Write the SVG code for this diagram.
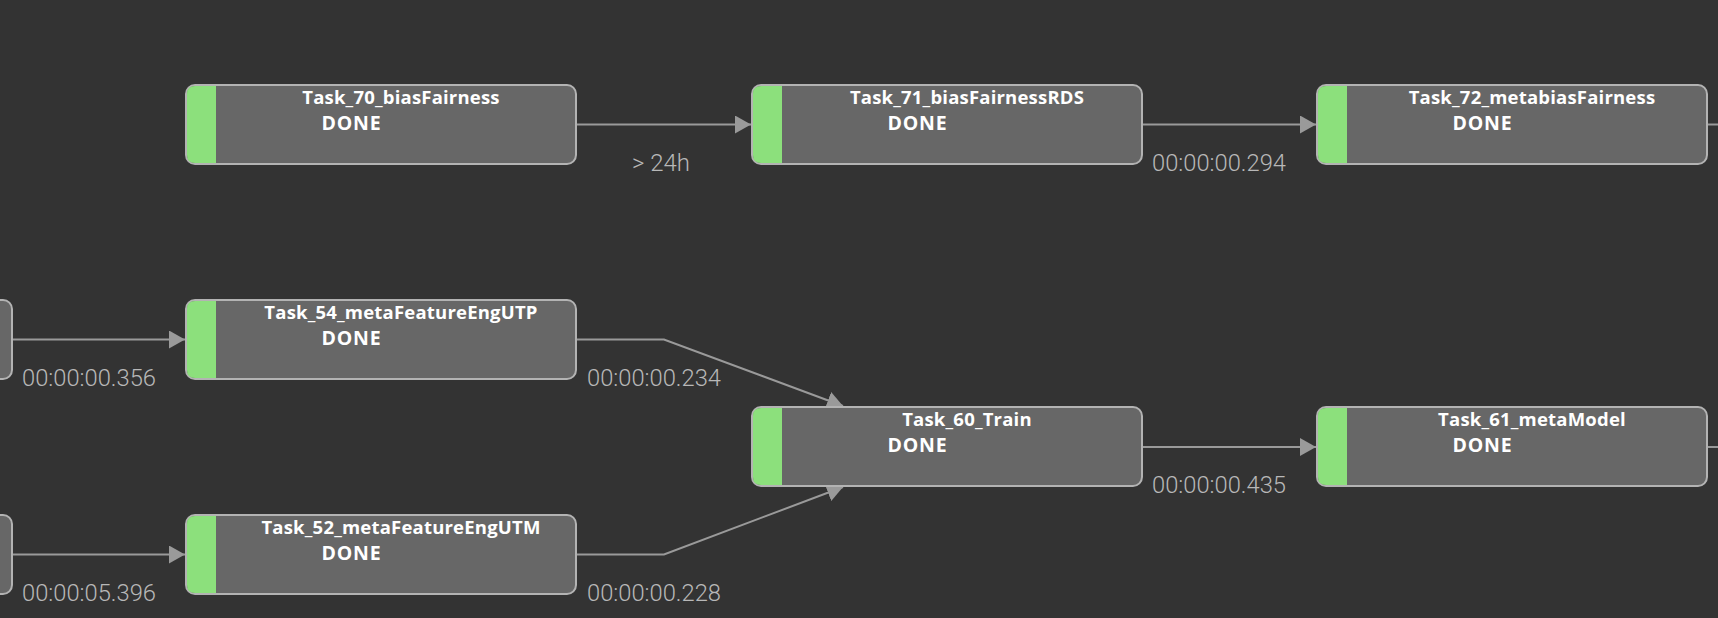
<svg xmlns="http://www.w3.org/2000/svg" width="1718" height="618" viewBox="0 0 1718 618">
<style>
.node rect.box{fill:#676767;stroke:#b3b3b3;stroke-width:2}
.node path.bar{fill:#8ce07c}
.title{font-family:"Open Sans","Liberation Sans",sans-serif;font-weight:700;font-size:18.5px;fill:#ffffff;text-anchor:middle;letter-spacing:0.2px}
.state{font-family:"Open Sans","Liberation Sans",sans-serif;font-weight:700;font-size:19.5px;fill:#ffffff;letter-spacing:0.8px}
.edge{fill:none;stroke:#9a9a9a;stroke-width:2}
.lbl{font-family:Roboto,"Liberation Sans",sans-serif;font-weight:300;font-size:24px;fill:#b8b8b8}
</style>
<defs>
<marker id="arr" markerUnits="userSpaceOnUse" markerWidth="16" markerHeight="18" refX="16" refY="9" orient="auto" viewBox="0 0 16 18">
<path d="M0,0 L16,9 L0,18 z" fill="#9a9a9a"/>
</marker>
</defs>
<rect width="1718" height="618" fill="#333333"/>
<g id="connectors">
<path class="edge" d="M577,124.5 L751,124.5" marker-end="url(#arr)"/>
<path class="edge" d="M1142,124.5 L1316,124.5" marker-end="url(#arr)"/>
<path class="edge" d="M1708,124.5 L1718,124.5"/>
<path class="edge" d="M13,339.5 L185,339.5" marker-end="url(#arr)"/>
<path class="edge" d="M13,554.5 L185,554.5" marker-end="url(#arr)"/>
<path class="edge" d="M577,339.5 L664,339.5 L843,406" marker-end="url(#arr)"/>
<path class="edge" d="M577,554.5 L664,554.5 L843,487" marker-end="url(#arr)"/>
<path class="edge" d="M1142,447 L1316,447" marker-end="url(#arr)"/>
<path class="edge" d="M1708,447 L1718,447"/>
<text class="lbl" x="632" y="171" textLength="58" lengthAdjust="spacingAndGlyphs">&gt; 24h</text>
<text class="lbl" x="1152" y="171" textLength="134" lengthAdjust="spacingAndGlyphs">00:00:00.294</text>
<text class="lbl" x="22" y="386" textLength="134" lengthAdjust="spacingAndGlyphs">00:00:00.356</text>
<text class="lbl" x="587" y="386" textLength="134" lengthAdjust="spacingAndGlyphs">00:00:00.234</text>
<text class="lbl" x="1152" y="493" textLength="134" lengthAdjust="spacingAndGlyphs">00:00:00.435</text>
<text class="lbl" x="22" y="601" textLength="134" lengthAdjust="spacingAndGlyphs">00:00:05.396</text>
<text class="lbl" x="587" y="601" textLength="134" lengthAdjust="spacingAndGlyphs">00:00:00.228</text>
</g>
<g id="node_prev1" class="node" transform="translate(-378,300)">
<rect class="box" x="0" y="0" width="390" height="79" rx="9"/>
</g>
<g id="node_prev2" class="node" transform="translate(-378,515)">
<rect class="box" x="0" y="0" width="390" height="79" rx="9"/>
</g>
<g id="node_70" class="node" transform="translate(186,85)">
<rect class="box" x="0" y="0" width="390" height="79" rx="9"/>
<path class="bar" d="M30,1 L9,1 Q1,1 1,9 L1,70 Q1,78 9,78 L30,78 z"/>
<text class="title" x="215" y="19">Task_70_biasFairness</text>
<text class="state" x="135.5" y="44.5">DONE</text>
</g>
<g id="node_71" class="node" transform="translate(752,85)">
<rect class="box" x="0" y="0" width="390" height="79" rx="9"/>
<path class="bar" d="M30,1 L9,1 Q1,1 1,9 L1,70 Q1,78 9,78 L30,78 z"/>
<text class="title" x="215" y="19">Task_71_biasFairnessRDS</text>
<text class="state" x="135.5" y="44.5">DONE</text>
</g>
<g id="node_72" class="node" transform="translate(1317,85)">
<rect class="box" x="0" y="0" width="390" height="79" rx="9"/>
<path class="bar" d="M30,1 L9,1 Q1,1 1,9 L1,70 Q1,78 9,78 L30,78 z"/>
<text class="title" x="215" y="19">Task_72_metabiasFairness</text>
<text class="state" x="135.5" y="44.5">DONE</text>
</g>
<g id="node_54" class="node" transform="translate(186,300)">
<rect class="box" x="0" y="0" width="390" height="79" rx="9"/>
<path class="bar" d="M30,1 L9,1 Q1,1 1,9 L1,70 Q1,78 9,78 L30,78 z"/>
<text class="title" x="215" y="19">Task_54_metaFeatureEngUTP</text>
<text class="state" x="135.5" y="44.5">DONE</text>
</g>
<g id="node_52" class="node" transform="translate(186,515)">
<rect class="box" x="0" y="0" width="390" height="79" rx="9"/>
<path class="bar" d="M30,1 L9,1 Q1,1 1,9 L1,70 Q1,78 9,78 L30,78 z"/>
<text class="title" x="215" y="19">Task_52_metaFeatureEngUTM</text>
<text class="state" x="135.5" y="44.5">DONE</text>
</g>
<g id="node_60" class="node" transform="translate(752,407)">
<rect class="box" x="0" y="0" width="390" height="79" rx="9"/>
<path class="bar" d="M30,1 L9,1 Q1,1 1,9 L1,70 Q1,78 9,78 L30,78 z"/>
<text class="title" x="215" y="19">Task_60_Train</text>
<text class="state" x="135.5" y="44.5">DONE</text>
</g>
<g id="node_61" class="node" transform="translate(1317,407)">
<rect class="box" x="0" y="0" width="390" height="79" rx="9"/>
<path class="bar" d="M30,1 L9,1 Q1,1 1,9 L1,70 Q1,78 9,78 L30,78 z"/>
<text class="title" x="215" y="19">Task_61_metaModel</text>
<text class="state" x="135.5" y="44.5">DONE</text>
</g>
</svg>
